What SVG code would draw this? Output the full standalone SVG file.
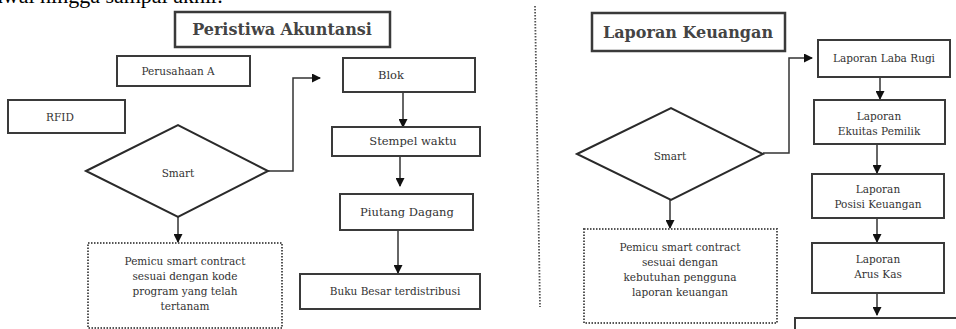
<svg xmlns="http://www.w3.org/2000/svg" width="956" height="329" viewBox="0 0 956 329">
<style>
.box{fill:#fff;stroke:#3a3a3a;stroke-width:2}
.tbox{fill:#fff;stroke:#3a3a3a;stroke-width:2.5}
.dot{fill:#fff;stroke:#555;stroke-width:2;stroke-dasharray:1.5 1.5}
.dia{fill:#fff;stroke:#2a2a2a;stroke-width:2}
.ln{fill:none;stroke:#333;stroke-width:1.5}
.t{font-family:"DejaVu Serif","Liberation Serif",serif;fill:#333;text-anchor:middle}
.title{font-size:16px;font-weight:bold;fill:#444}
.s{font-size:10.5px}
.m{font-size:11.5px}
</style>
<defs>
<marker id="ah" markerWidth="9" markerHeight="9" refX="8" refY="4.5" orient="auto" markerUnits="userSpaceOnUse">
<path d="M0,0 L9,4.5 L0,9 Z" fill="#111"/>
</marker>
</defs>
<text x="-7" y="3" font-family="Liberation Serif,serif" font-size="22" fill="#000">awal hingga sampai akhir.</text>
<line x1="535" y1="6" x2="540" y2="307" stroke="#555" stroke-width="1.8" stroke-dasharray="1.5 1.5"/>

<g id="connectors">
<polyline class="ln" points="268,171 293,171 293,78 320,78" marker-end="url(#ah)"/>
<line class="ln" x1="403" y1="92" x2="403" y2="127" marker-end="url(#ah)"/>
<line class="ln" x1="400" y1="156" x2="400" y2="186" marker-end="url(#ah)"/>
<line class="ln" x1="398" y1="230" x2="398" y2="273" marker-end="url(#ah)"/>
<line class="ln" x1="178" y1="217" x2="178" y2="242" marker-end="url(#ah)"/>
<polyline class="ln" points="763,153 789,153 789,58 812,58" marker-end="url(#ah)"/>
<line class="ln" x1="880" y1="77" x2="880" y2="99" marker-end="url(#ah)"/>
<line class="ln" x1="877" y1="144" x2="877" y2="173" marker-end="url(#ah)"/>
<line class="ln" x1="877" y1="218" x2="877" y2="242" marker-end="url(#ah)"/>
<line class="ln" x1="877" y1="293" x2="877" y2="315" marker-end="url(#ah)"/>
<line class="ln" x1="670" y1="200" x2="670" y2="228" marker-end="url(#ah)"/>
</g>

<g id="peristiwa">
<rect class="tbox" x="175" y="12" width="215" height="35"/>
<text class="t title" x="282" y="35">Peristiwa Akuntansi</text>
</g>
<g id="perusahaan">
<rect class="box" x="117" y="56" width="133" height="30"/>
<text class="t s" x="178" y="75">Perusahaan A</text>
</g>
<g id="blok">
<rect class="box" x="343" y="58" width="132" height="34"/>
<text class="t m" x="391" y="79">Blok</text>
</g>
<g id="rfid">
<rect class="box" x="8" y="100" width="117" height="33"/>
<text class="t s" x="60" y="121">RFID</text>
</g>
<g id="smart1">
<polygon class="dia" points="86,171 178,125 268,171 178,217"/>
<text class="t s" x="178" y="177">Smart</text>
</g>
<g id="stempel">
<rect class="box" x="332" y="127" width="148" height="29"/>
<text class="t m" x="413" y="145">Stempel waktu</text>
</g>
<g id="piutang">
<rect class="box" x="340" y="194" width="133" height="36"/>
<text class="t m" x="407" y="216">Piutang Dagang</text>
</g>
<g id="bukubesar">
<rect class="box" x="300" y="274" width="180" height="35"/>
<text class="t s" x="395" y="295">Buku Besar terdistribusi</text>
</g>
<g id="pemicu1">
<rect class="dot" x="88" y="243" width="194" height="85"/>
<text class="t s" x="185" y="265">Pemicu smart contract</text>
<text class="t s" x="185" y="280">sesuai dengan kode</text>
<text class="t s" x="185" y="295">program yang telah</text>
<text class="t s" x="185" y="310">tertanam</text>
</g>

<g id="laporankeuangan">
<rect class="tbox" x="592" y="13" width="193" height="38"/>
<text class="t title" x="688" y="38">Laporan Keuangan</text>
</g>
<g id="smart2">
<polygon class="dia" points="577,154 671,108 763,154 671,200"/>
<text class="t s" x="670" y="160">Smart</text>
</g>
<g id="pemicu2">
<rect class="dot" x="584" y="229" width="193" height="94"/>
<text class="t s" x="680" y="251">Pemicu smart contract</text>
<text class="t s" x="680" y="266">sesuai dengan</text>
<text class="t s" x="680" y="281">kebutuhan pengguna</text>
<text class="t s" x="680" y="296">laporan keuangan</text>
</g>
<g id="labarugi">
<rect class="box" x="818" y="40" width="132" height="37"/>
<text class="t s" x="884" y="62">Laporan Laba Rugi</text>
</g>
<g id="ekuitas">
<rect class="box" x="814" y="100" width="131" height="44"/>
<text class="t s" x="879" y="120">Laporan</text>
<text class="t s" x="879" y="135">Ekuitas Pemilik</text>
</g>
<g id="posisi">
<rect class="box" x="812" y="174" width="132" height="44"/>
<text class="t s" x="878" y="193">Laporan</text>
<text class="t s" x="878" y="208">Posisi Keuangan</text>
</g>
<g id="aruskas">
<rect class="box" x="812" y="243" width="132" height="50"/>
<text class="t s" x="878" y="263">Laporan</text>
<text class="t s" x="878" y="278">Arus Kas</text>
</g>
<g id="bottombox">
<rect class="box" x="795" y="318" width="170" height="30"/>
</g>
</svg>
